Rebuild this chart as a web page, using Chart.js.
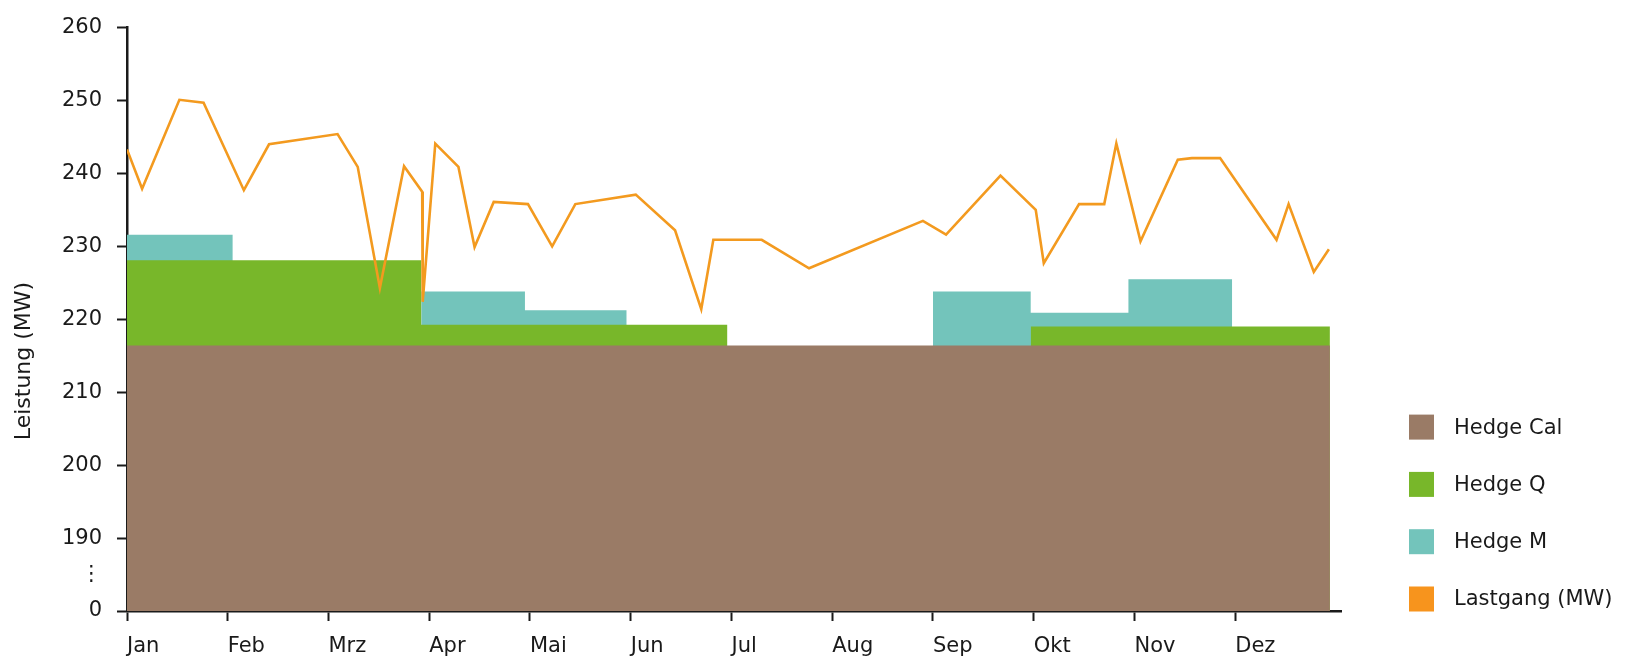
<!DOCTYPE html>
<html lang="de">
<head>
  <meta charset="UTF-8">
  <title>Hedge - Lastgang</title>
  <script src="https://cdn.jsdelivr.net/npm/chart.js"></script>
  <style>
    body {
      margin: 0;
      background: #ffffff;
    }
    .wrap {
      width: 1637px;
      height: 657px;
    }
  </style>
</head>
<body>
  <div class="wrap">
    <canvas id="hedgeChart"></canvas>
  </div>

  <script>
    // month labels, x value = month index (0 = Jan)
    const months = ['Jan', 'Feb', 'Mrz', 'Apr', 'Mai', 'Jun', 'Jul', 'Aug', 'Sep', 'Okt', 'Nov', 'Dez'];

    // broken y axis: 180 stands for 0, 185 for the gap mark
    const yTickValues = [180, 185, 190, 200, 210, 220, 230, 240, 250, 260];
    const yTickLabels = ['0', '⋮', '190', '200', '210', '220', '230', '240', '250', '260'];

    // blocks: [from month, to month, top level MW]
    const hedgeCal = [[0, 11.94, 216.4]];
    const hedgeQ = [[0, 2.92, 228.1], [2.92, 5.96, 219.25], [8.97, 11.94, 219.0]];
    const hedgeM = [[0, 1.05, 231.6], [2.92, 3.95, 223.8], [3.95, 4.96, 221.25],
                    [8.0, 8.97, 223.8], [8.97, 9.94, 220.9], [9.94, 10.97, 225.5]];

    // Lastgang (MW)
    const loadX = [0, 0.15, 0.52, 0.76, 1.16, 1.41, 2.09, 2.29, 2.51, 2.75, 2.93, 2.935,
                   3.06, 3.29, 3.45, 3.64, 3.98, 4.22, 4.45, 5.05, 5.44, 5.70, 5.82, 6.30,
                   6.77, 7.90, 8.13, 8.67, 9.02, 9.10, 9.45, 9.70, 9.82, 10.06, 10.43, 10.57,
                   10.85, 11.41, 11.53, 11.78, 11.93];
    const loadY = [243.3, 237.9, 250.1, 249.7, 237.7, 244.0, 245.4, 240.9, 224.3, 241.0, 237.5, 222.4,
                   244.1, 240.9, 229.9, 236.1, 235.8, 230.0, 235.8, 237.1, 232.2, 221.4, 230.9, 230.9,
                   227.0, 233.5, 231.6, 239.7, 235.0, 227.7, 235.8, 235.8, 244.1, 230.7, 241.9, 242.1,
                   242.1, 230.9, 235.8, 226.5, 229.6];

    const colors = {
      cal: '#9a7b66',
      q: '#78b72a',
      m: '#73c4bb',
      load: '#f39a1f',
      text: '#1a1a1a'
    };
    const font = 'DejaVu Sans';

    // turn blocks into step points, null where blocks don't touch
    function blockPoints(blocks) {
      const pts = [];
      blocks.forEach((b, i) => {
        pts.push({ x: b[0], y: b[2] });
        pts.push({ x: b[1], y: b[2] });
        const next = blocks[i + 1];
        if (next && next[0] !== b[1]) pts.push({ x: b[1], y: null });
      });
      return pts;
    }

    function areaSet(label, blocks, color, order) {
      return {
        label: label,
        data: blockPoints(blocks),
        backgroundColor: color,
        borderColor: 'transparent',
        borderWidth: 0,
        pointRadius: 0,
        fill: 'start',
        spanGaps: false,
        order: order
      };
    }

    // legend + axis title drawn by hand to match the layout
    const sideLegend = {
      id: 'sideLegend',
      afterDraw(chart) {
        const ctx = chart.ctx;
        const area = chart.chartArea;
        ctx.save();
        ctx.font = '21px "' + font + '"';
        ctx.textBaseline = 'middle';
        ctx.fillStyle = colors.text;

        const sets = chart.data.datasets;
        const n = sets.length;
        sets.forEach((ds, i) => {
          const cy = area.bottom - 12 - (n - 1 - i) * 57.3;
          const bx = area.right + 68;
          ctx.fillStyle = ds.legendColor || ds.backgroundColor;
          ctx.fillRect(bx, cy - 12.5, 25, 25);
          ctx.fillStyle = colors.text;
          ctx.textAlign = 'left';
          ctx.fillText(ds.label, bx + 45, cy + 1);
        });

        // y axis title
        ctx.font = '22px "' + font + '"';
        ctx.translate(24, 361);
        ctx.rotate(-Math.PI / 2);
        ctx.textAlign = 'center';
        ctx.fillText('Leistung (MW)', 0, 0);
        ctx.restore();
      }
    };

    const ctx = document.getElementById('hedgeChart').getContext('2d');

    new Chart(ctx, {
      type: 'line',
      data: {
        datasets: [
          areaSet('Hedge Cal', hedgeCal, colors.cal, 1),
          areaSet('Hedge Q', hedgeQ, colors.q, 2),
          areaSet('Hedge M', hedgeM, colors.m, 3),
          {
            label: 'Lastgang (MW)',
            data: loadX.map((x, i) => ({ x: x, y: loadY[i] })),
            borderColor: colors.load,
            backgroundColor: colors.load,
            legendColor: '#f7941d',
            borderWidth: 2.6,
            pointRadius: 0,
            tension: 0,
            fill: false,
            order: 0
          }
        ]
      },
      options: {
        responsive: true,
        maintainAspectRatio: false,
        animation: false,
        layout: {
          padding: { top: 24, right: 296, bottom: 0, left: 0 }
        },
        plugins: {
          legend: { display: false },
          tooltip: { enabled: false }
        },
        scales: {
          x: {
            type: 'linear',
            min: 0,
            max: 12.05,
            afterBuildTicks: (scale) => {
              scale.ticks = months.map((_, i) => ({ value: i }));
            },
            afterFit: (scale) => { scale.height = 46; },
            ticks: {
              autoSkip: false,
              maxRotation: 0,
              align: 'start',
              padding: 13,
              color: colors.text,
              font: { family: font, size: 21 },
              callback: (value) => months[value]
            },
            grid: {
              drawOnChartArea: false,
              drawTicks: true,
              tickLength: 10,
              tickColor: colors.text,
              tickWidth: 2
            },
            border: { display: true, color: colors.text, width: 2.5 }
          },
          y: {
            type: 'linear',
            min: 180,
            max: 260,
            afterBuildTicks: (scale) => {
              scale.ticks = yTickValues.map(v => ({ value: v }));
            },
            afterFit: (scale) => { scale.width = 127; },
            ticks: {
              padding: 15,
              color: colors.text,
              font: { family: font, size: 21 },
              callback: (value) => yTickLabels[yTickValues.indexOf(value)]
            },
            grid: {
              drawOnChartArea: false,
              drawTicks: true,
              tickLength: 10,
              tickColor: (c) => (c.tick && c.tick.value === 185) ? 'rgba(0,0,0,0)' : colors.text,
              tickWidth: 2
            },
            border: { display: true, color: colors.text, width: 2.5 }
          }
        }
      },
      plugins: [sideLegend]
    });
  </script>
</body>
</html>
